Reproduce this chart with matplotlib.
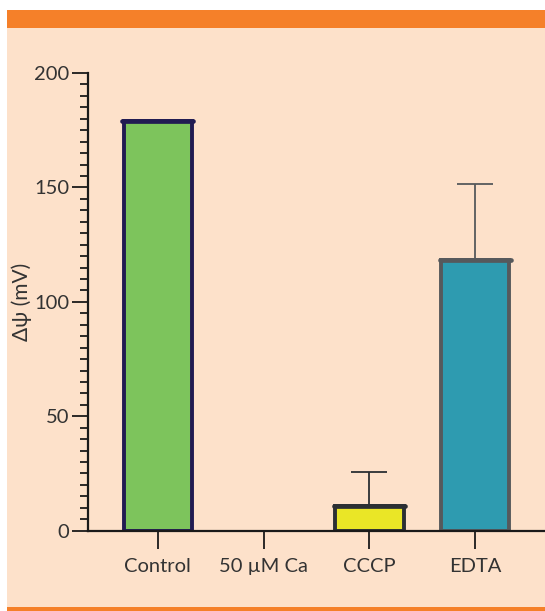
import matplotlib.pyplot as plt
import numpy as np
from matplotlib.patches import Rectangle
from matplotlib.ticker import MultipleLocator

plt.rcParams['font.family'] = ['Lato', 'DejaVu Sans']

# data
groups = ["Control", "50 \u00b5M Ca", "CCCP", "EDTA"]
values = [179, 0, 11, 118.5]
errors = [0, 0, 14.5, 33]
fills = ["#7DC45C", "#7DC45C", "#EAE626", "#2E9BB0"]
edges = ["#211B52", "#211B52", "#2B2F33", "#56595C"]

peach = "#FDE1CA"
orange = "#F58029"

fig = plt.figure(figsize=(5.45, 6.11), dpi=100, facecolor="white")
W, H = 545, 611
# panel background and orange bands
fig.add_artist(Rectangle((7 / W, 0), 1 - 7 / W, 1 - 10 / H, transform=fig.transFigure,
                         facecolor=peach, edgecolor="none", zorder=0))
fig.add_artist(Rectangle((7 / W, 1 - 28 / H), 1 - 7 / W, 18 / H, transform=fig.transFigure,
                         facecolor=orange, edgecolor="none", zorder=1))
fig.add_artist(Rectangle((7 / W, 0), 1 - 7 / W, 4 / H, transform=fig.transFigure,
                         facecolor=orange, edgecolor="none", zorder=1))

ax = fig.add_axes([88 / W, 80.3 / H, 1 - 88 / W, (530.7 - 73) / H])
ax.set_facecolor("none")

x = np.arange(len(groups))
for i in range(len(groups)):
    if values[i] > 0:
        ax.bar(x[i], values[i], width=0.645, color=fills[i], edgecolor=edges[i],
               linewidth=2.8, zorder=2)
        ax.plot([x[i] - 0.335, x[i] + 0.335], [values[i], values[i]], color=edges[i],
                lw=3.4, solid_capstyle="round", zorder=3)
    if errors[i] > 0:
        ax.errorbar(x[i], values[i], yerr=[[0], [errors[i]]], fmt="none",
                    ecolor=edges[i], elinewidth=1.3, capsize=13, capthick=1.3, zorder=1)

ax.set_xlim(-0.66, 3.66)
ax.set_ylim(0, 200)
ax.yaxis.set_major_locator(MultipleLocator(50))
ax.yaxis.set_minor_locator(MultipleLocator(5))
ax.set_xticks(x)
ax.set_xticklabels(groups)

for s in ["top", "right"]:
    ax.spines[s].set_visible(False)
for s in ["left", "bottom"]:
    ax.spines[s].set_linewidth(1.6)
    ax.spines[s].set_color("#1a1a1a")
    ax.spines[s].set_zorder(4)

ax.tick_params(axis="y", which="major", length=11.5, width=1.3, pad=2,
               labelsize=14.5, colors="#1a1a1a", labelcolor="#333333")
ax.tick_params(axis="y", which="minor", length=5.8, width=1.3, colors="#1a1a1a")
ax.tick_params(axis="x", which="major", length=13, width=1.3, pad=7,
               labelsize=14.5, colors="#1a1a1a", labelcolor="#333333")

ax.set_ylabel("\u0394\u03c8 (mV)", fontsize=15, color="#333333")
ax.yaxis.set_label_coords(-0.123, 0.5)

fig.savefig("out.png", dpi=100, facecolor="white")
